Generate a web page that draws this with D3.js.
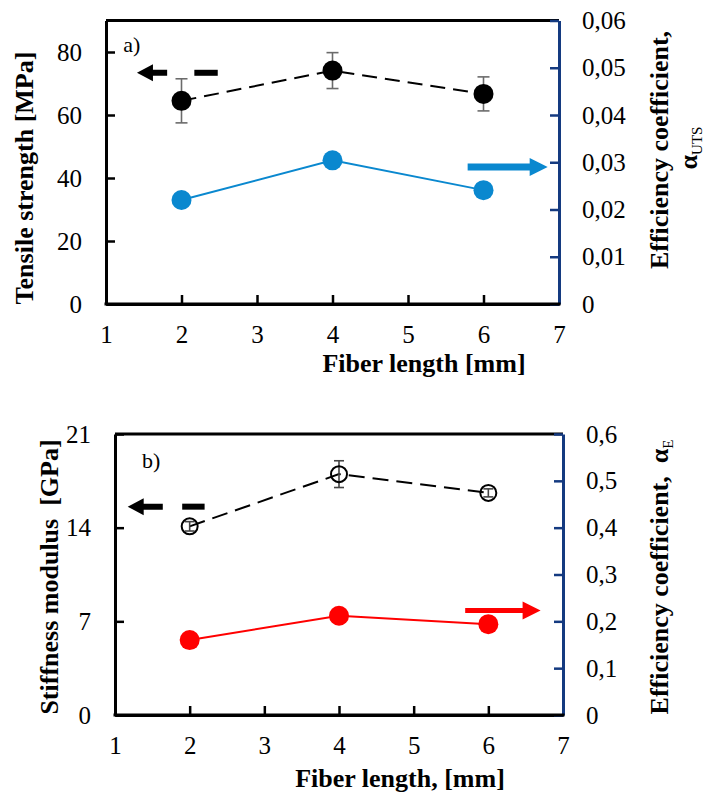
<!DOCTYPE html>
<html>
<head>
<meta charset="utf-8">
<script src="https://cdn.jsdelivr.net/npm/d3@7"></script>
<style>
  body { margin: 0; background: #fff; }
  svg { font-family: "Liberation Serif", "DejaVu Serif", serif; }
</style>
</head>
<body>
<div id="chart"></div>
<script>
// values
var fiberLength = [2, 4, 6];
var xTicks = [1, 2, 3, 4, 5, 6, 7];

// panel a)
var tensileStrength = [64.5, 74.1, 66.7];
var tensileErr = [7.0, 5.7, 5.4];
var alphaUTS = [0.0220, 0.0304, 0.0241];
var tensileTicks = [0, 20, 40, 60, 80];
var alphaUTSTicks = [0, 0.01, 0.02, 0.03, 0.04, 0.05, 0.06];

// panel b)
var stiffness = [14.1, 18.0, 16.6];
var stiffnessErr = [0.35, 1.0, 0.3];
var alphaE = [0.160, 0.212, 0.194];
var stiffnessTicks = [0, 7, 14, 21];
var alphaETicks = [0, 0.1, 0.2, 0.3, 0.4, 0.5, 0.6];

var width = 705;
var height = 793;
var serif = "'Liberation Serif', 'DejaVu Serif', serif";
var navy = "#143a80";
var blue = "#0a88cf";
var red = "#ff0000";

var svg = d3.select("#chart")
    .append("svg")
    .attr("width", width)
    .attr("height", height)
    .attr("font-family", serif);

//comma decimal like the original
function commaFormat(digits) {
    return function (d) {
        if (d === 0) return "0";
        return d3.format("." + digits + "f")(d).replace(".", ",");
    };
}

//block arrow, pointing from tail to tip
function drawArrow(g, xTail, xTip, y, color, shaft, headLen, headH) {
    var dir = xTip > xTail ? 1 : -1;
    var xBase = xTip - dir * headLen;
    var pts = [
        [xTail, y - shaft / 2], [xBase, y - shaft / 2], [xBase, y - headH / 2],
        [xTip, y], [xBase, y + headH / 2], [xBase, y + shaft / 2], [xTail, y + shaft / 2]
    ];
    g.append("path")
        .attr("d", "M" + pts.join("L") + "Z")
        .attr("fill", color);
}

function drawPanel(p) {
    var g = svg.append("g");
    var x = d3.scaleLinear().domain([1, 7]).range([p.left, p.right]);
    var yL = d3.scaleLinear().domain([0, p.leftMax]).range([p.bottom, p.top]);
    var yR = d3.scaleLinear().domain([0, p.rightMax]).range([p.bottom, p.top]);

    //top border
    g.append("line")
        .attr("x1", p.left).attr("x2", p.right)
        .attr("y1", p.top).attr("y2", p.top)
        .attr("stroke", "#000").attr("stroke-width", 3);

    var ax = g.append("g")
        .attr("transform", "translate(0," + p.bottom + ")")
        .call(d3.axisBottom(x).tickValues(xTicks).tickFormat(d3.format("d"))
            .tickSizeInner(-9).tickSizeOuter(0).tickPadding(21));
    var al = g.append("g")
        .attr("transform", "translate(" + p.left + ",0)")
        .call(d3.axisLeft(yL).tickValues(p.leftTicks).tickFormat(d3.format("d"))
            .tickSizeInner(-9).tickSizeOuter(0).tickPadding(24));
    var ar = g.append("g")
        .attr("transform", "translate(" + p.right + ",0)")
        .call(d3.axisRight(yR).tickValues(p.rightTicks).tickSizeInner(-9).tickSizeOuter(0).tickPadding(23)
            .tickFormat(commaFormat(p.rightDigits)));

    [ax, al, ar].forEach(function (a) {
        a.attr("font-family", serif).attr("font-size", 25);
        a.selectAll("text").attr("fill", "#000");
        a.selectAll(".tick line").attr("stroke-width", 2.5);
        a.select(".domain").attr("stroke-width", 3);
    });
    ax.selectAll(".tick line, .domain").attr("stroke", "#000");
    al.selectAll(".tick line, .domain").attr("stroke", "#000");
    ar.selectAll(".tick line, .domain").attr("stroke", navy);
    //redraw bottom line so corners look square
    g.append("line")
        .attr("x1", p.left - 1.5).attr("x2", p.right + 1.5)
        .attr("y1", p.bottom).attr("y2", p.bottom)
        .attr("stroke", "#000").attr("stroke-width", 3);

    //secondary series (solid, filled circles, right axis)
    var rightPts = fiberLength.map(function (d, i) { return [x(d), yR(p.rightVals[i])]; });
    g.append("path")
        .attr("d", d3.line()(rightPts))
        .attr("fill", "none")
        .attr("stroke", p.rightColor)
        .attr("stroke-width", 2);
    g.selectAll(".rdot")
        .data(rightPts)
        .enter()
        .append("circle")
        .attr("cx", function (d) { return d[0]; })
        .attr("cy", function (d) { return d[1]; })
        .attr("r", 10)
        .attr("fill", p.rightColor);

    //primary series (dashed, black)
    var leftPts = fiberLength.map(function (d, i) { return [x(d), yL(p.leftVals[i])]; });
    g.append("path")
        .attr("d", d3.line()(leftPts))
        .attr("fill", "none")
        .attr("stroke", "#000")
        .attr("stroke-width", 2)
        .attr("stroke-dasharray", p.dash);

    var eb = g.selectAll(".err")
        .data(fiberLength)
        .enter()
        .append("g");
    if (p.openMarker) {
        g.selectAll(".ldot")
            .data(leftPts)
            .enter()
            .append("circle")
            .attr("cx", function (d) { return d[0]; })
            .attr("cy", function (d) { return d[1]; })
            .attr("r", 8)
            .attr("fill", "none")
            .attr("stroke", "#000")
            .attr("stroke-width", 2);
    }
    eb.append("line")
        .attr("x1", function (d) { return x(d); })
        .attr("x2", function (d) { return x(d); })
        .attr("y1", function (d, i) { return yL(p.leftVals[i] - p.leftErr[i]); })
        .attr("y2", function (d, i) { return yL(p.leftVals[i] + p.leftErr[i]); })
        .attr("stroke", p.errColor).attr("stroke-width", 1.6);
    [-1, 1].forEach(function (s) {
        eb.append("line")
            .attr("x1", function (d) { return x(d) - p.capW / 2; })
            .attr("x2", function (d) { return x(d) + p.capW / 2; })
            .attr("y1", function (d, i) { return yL(p.leftVals[i] + s * p.leftErr[i]); })
            .attr("y2", function (d, i) { return yL(p.leftVals[i] + s * p.leftErr[i]); })
            .attr("stroke", p.errColor).attr("stroke-width", 1.6);
    });
    if (!p.openMarker) {
        g.selectAll(".ldot")
            .data(leftPts)
            .enter()
            .append("circle")
            .attr("cx", function (d) { return d[0]; })
            .attr("cy", function (d) { return d[1]; })
            .attr("r", 10)
            .attr("fill", "#000");
    }

    //arrows pointing to the axis of each series
    var la = p.leftArrow;
    drawArrow(g, x(la.tail), x(la.tip), yL(la.y), "#000", 6, 16, 17);
    g.append("rect")
        .attr("x", x(la.dash[0]))
        .attr("y", yL(la.y) - 3)
        .attr("width", x(la.dash[1]) - x(la.dash[0]))
        .attr("height", 6)
        .attr("fill", "#000");
    var ra = p.rightArrow;
    drawArrow(g, x(ra.tail), x(ra.tip), yR(ra.y), p.rightColor, ra.shaft, 18, 18);

    //panel letter
    g.append("text")
        .attr("x", x(p.letterPos[0]))
        .attr("y", yL(p.letterPos[1]))
        .attr("font-size", 22)
        .text(p.letter);

    //axis titles
    g.append("text")
        .attr("transform", "translate(" + p.xTitlePos[0] + "," + p.xTitlePos[1] + ")")
        .attr("text-anchor", "middle")
        .attr("font-size", 26)
        .attr("font-weight", "bold")
        .text(p.xTitle);
    g.append("text")
        .attr("transform", "translate(" + p.yTitlePos[0] + "," + p.yTitlePos[1] + ") rotate(-90)")
        .attr("text-anchor", "middle")
        .attr("font-size", 26)
        .attr("font-weight", "bold")
        .style("white-space", "pre")
        .text(p.yTitle);

    p.rTitleLines.forEach(function (line) {
        var t = g.append("text")
            .attr("transform", "translate(" + line.x + "," + line.y + ") rotate(-90)")
            .attr("text-anchor", "middle")
            .attr("font-size", 26)
            .attr("font-weight", "bold")
            .style("white-space", "pre");
        t.append("tspan").text(line.text);
        if (line.sub) {
            t.append("tspan")
                .attr("font-size", 15)
                .attr("font-weight", "normal")
                .attr("dy", 5)
                .text(line.sub);
        }
    });
}

drawPanel({
    left: 106, right: 559, top: 20.5, bottom: 304,
    leftMax: 90, leftTicks: tensileTicks,
    rightMax: 0.06, rightTicks: alphaUTSTicks, rightDigits: 2,
    leftVals: tensileStrength, leftErr: tensileErr,
    rightVals: alphaUTS, rightColor: blue,
    openMarker: false, errColor: "#6b6b6b", capW: 12, dash: "15,8",
    leftArrow: { tip: 1.41, tail: 1.81, dash: [2.17, 2.48], y: 73.4 },
    rightArrow: { tail: 5.79, tip: 6.85, y: 0.029, shaft: 7 },
    letter: "a)", letterPos: [1.23, 80],
    xTitle: "Fiber length [mm]", xTitlePos: [424, 372],
    yTitle: "Tensile strength [MPa]", yTitlePos: [33, 178],
    rTitleLines: [
        { text: "Efficiency coefficient,", x: 668, y: 150 },
        { text: "\u03b1", sub: "UTS", x: 697, y: 148 }
    ]
});

drawPanel({
    left: 115, right: 563, top: 434, bottom: 715,
    leftMax: 21, leftTicks: stiffnessTicks,
    rightMax: 0.6, rightTicks: alphaETicks, rightDigits: 1,
    leftVals: stiffness, leftErr: stiffnessErr,
    rightVals: alphaE, rightColor: red,
    openMarker: true, errColor: "#444", capW: 10, dash: "16,8",
    leftArrow: { tip: 1.17, tail: 1.64, dash: [1.90, 2.20], y: 15.57 },
    rightArrow: { tail: 5.69, tip: 6.70, y: 0.223, shaft: 5 },
    letter: "b)", letterPos: [1.36, 18.46],
    xTitle: "Fiber length, [mm]", xTitlePos: [400, 787],
    yTitle: "Stiffness modulus  [GPa]", yTitlePos: [58, 577],
    rTitleLines: [
        { text: "Efficiency coefficient,  \u03b1", sub: "E", x: 668, y: 577 }
    ]
});
</script>
</body>
</html>
